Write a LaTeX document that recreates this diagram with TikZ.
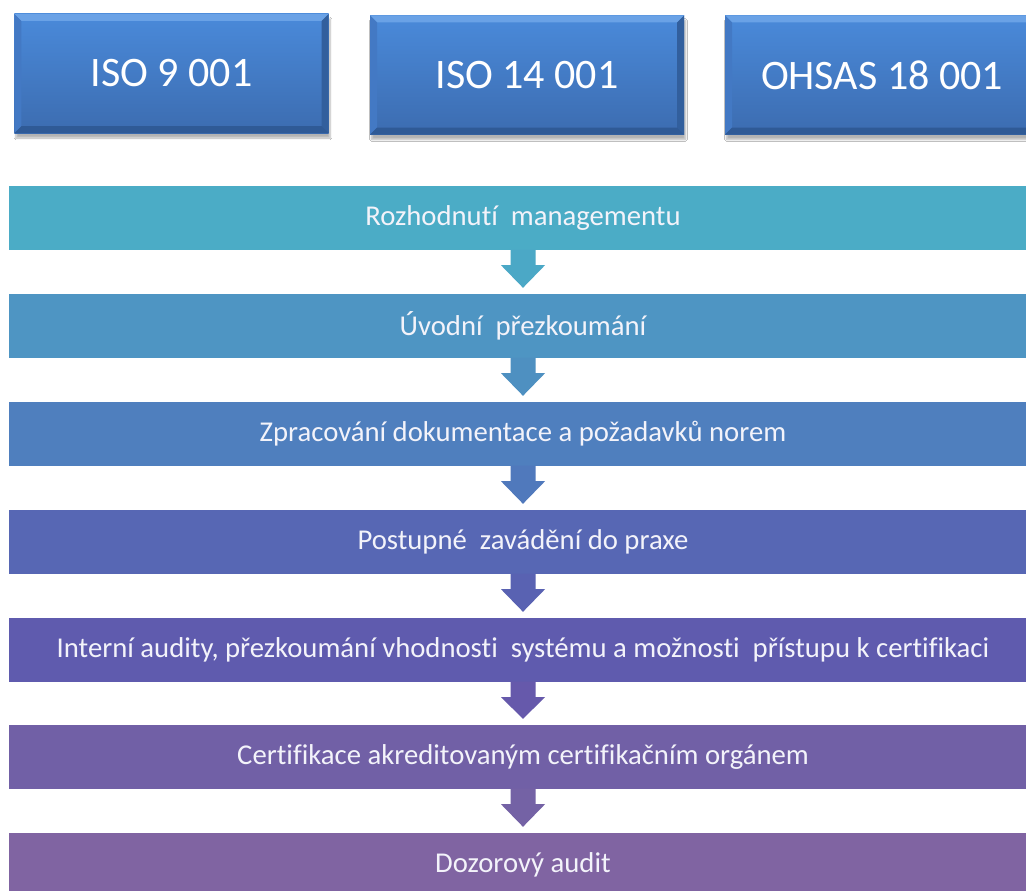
\documentclass[tikz,border=0pt]{standalone}
\usepackage{fontspec}
\setmainfont[Ligatures={NoCommon}]{Carlito}
\usetikzlibrary{calc,shadows.blur}
\definecolor{c1}{HTML}{4BACC6}
\definecolor{c2}{HTML}{4E95C3}
\definecolor{c3}{HTML}{4F7FBE}
\definecolor{c4}{HTML}{5767B4}
\definecolor{c5}{HTML}{5F5BAE}
\definecolor{c6}{HTML}{7160A6}
\definecolor{c7}{HTML}{8064A2}
\definecolor{a1}{HTML}{4BA8C6}
\definecolor{a2}{HTML}{4E90C1}
\definecolor{a3}{HTML}{5079BC}
\definecolor{a4}{HTML}{5962B2}
\definecolor{a5}{HTML}{6659AB}
\definecolor{a6}{HTML}{7462A5}
\definecolor{boxtop}{HTML}{4A8ADA}
\definecolor{boxbot}{HTML}{3C6CB0}
\definecolor{bevlight}{HTML}{6AA2E6}
\definecolor{bevside}{HTML}{4379C4}
\definecolor{bevdark}{HTML}{2F5A96}
\definecolor{bartext}{HTML}{F3F3FA}
\tikzset{
  stdbox/.style={minimum width=314bp, minimum height=119bp, inner sep=0pt,
    top color=boxtop, bottom color=boxbot, text=white,
    font=\fontsize{42bp}{48bp}\selectfont,
    blur shadow={shadow xshift=1.5bp, shadow yshift=-5bp, shadow blur steps=6, shadow opacity=30},
    path picture={
      \coordinate (nw) at (path picture bounding box.north west);
      \coordinate (se) at (path picture bounding box.south east);
      \coordinate (ne) at (path picture bounding box.north east);
      \coordinate (sw) at (path picture bounding box.south west);
      \fill[bevlight] (nw) -- (ne) -- ($(ne)+(-7,7)$) -- ($(nw)+(7,7)$) -- cycle;
      \fill[bevside] (nw) -- ($(nw)+(7,7)$) -- ($(sw)+(7,-7)$) -- (sw) -- cycle;
      \fill[bevdark!85!bevside] (ne) -- ($(ne)+(-7,7)$) -- ($(se)+(-7,-7)$) -- (se) -- cycle;
      \fill[bevdark] (sw) -- ($(sw)+(7,-7)$) -- ($(se)+(-7,-7)$) -- (se) -- cycle;
    }},
  stepbar/.style={minimum width=1028bp, minimum height=64bp, inner sep=0pt,
    text=bartext, font=\fontsize{28.7bp}{34bp}\selectfont},
}
\begin{document}
\begin{tikzpicture}[x=1bp,y=-1bp]
\useasboundingbox (0,0) rectangle (1026,891);
\clip (0,0) rectangle (1026,891);
\fill[white] (0,0) rectangle (1026,891);
\node[stdbox] (s1) at (171.5,73.5) {ISO 9 001};
\node[stdbox] (s2) at (527,75) {ISO 14 001};
\node[stdbox] (s3) at (882,75) {OHSAS 18 001};
\node[stepbar, fill=c1] (b1) at (523,218) {Rozhodnutí\ \ managementu};
\node[stepbar, fill=c2] (b2) at (523,326) {Úvodní\ \ přezkoumání};
\node[stepbar, fill=c3] (b3) at (523,434) {Zpracování dokumentace a požadavků norem};
\node[stepbar, fill=c4] (b4) at (523,542) {Postupné\ \ zavádění do praxe};
\node[stepbar, fill=c5] (b5) at (523,650) {Interní audity, přezkoumání vhodnosti\ \ systému a možnosti\ \ přístupu k certifikaci};
\node[stepbar, fill=c6] (b6) at (523,757) {Certifikace akreditovaným certifikačním orgánem};
\node[stepbar, fill=c7] (b7) at (523,865) {Dozorový audit};
\foreach \i/\j in {1/2,2/3,3/4,4/5,5/6,6/7}{
  \fill[a\i] ($(b\i.south)+(-12.5,-0.5)$) -- ($(b\i.south)+(-12.5,15)$) -- ($(b\i.south)+(-22,15)$)
    -- ($(b\j.north)+(0,-6)$) -- ($(b\i.south)+(22,15)$) -- ($(b\i.south)+(12.5,15)$)
    -- ($(b\i.south)+(12.5,-0.5)$) -- cycle;
}
\end{tikzpicture}
\end{document}
